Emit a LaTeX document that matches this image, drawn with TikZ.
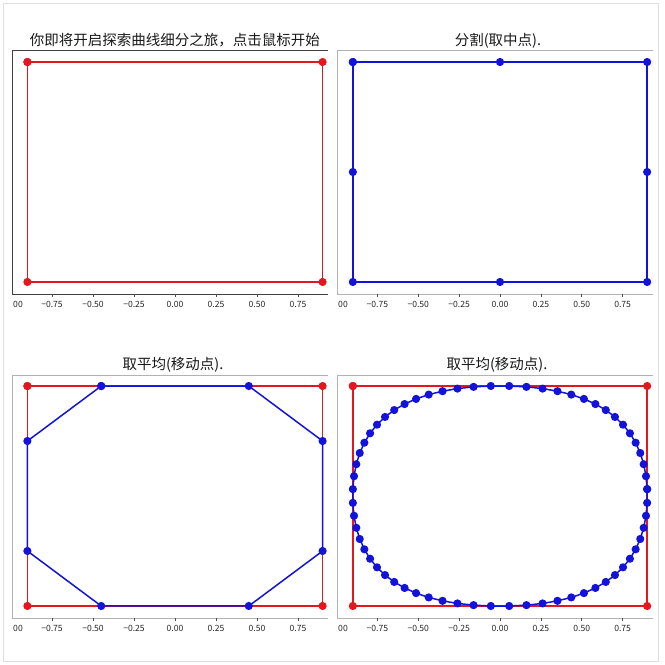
\documentclass[tikz,border=0pt]{standalone}
\usepackage{fontspec}
\newfontfamily\cjk{Noto Sans CJK SC}
\definecolor{pr}{RGB}{228,22,30}
\definecolor{pb}{RGB}{18,18,218}
\tikzset{
  redline/.style={draw=pr, line width=1.5pt, line join=round},
  blueline/.style={draw=pb, line width=1.5pt, line join=round},
  reddots/.style={mark=*, mark size=3.3pt, mark options={draw=pr, fill=pr, solid}},
  bluedots/.style={mark=*, mark size=3.3pt, mark options={draw=pb, fill=pb, solid}},
  spine/.style={line width=0.8pt},
  tickmark/.style={line width=0.7pt, draw=black!70},
  ticklab/.style={font=\cjk\fontsize{8.6}{10}\selectfont, anchor=base, inner sep=0pt, text=black!85},
  titlelab/.style={font=\cjk\fontsize{14.5}{16}\selectfont, anchor=base, inner sep=0pt, text=black!90},
  frame/.style={draw=gray!25, line width=0.8pt}
}
% #1 left, #2 right, #3 top, #4 bottom, #5 x of zero, #6 px per unit, #7 spine colour
\newcommand\myaxes[7]{%
  \draw[spine, draw=#7] (#2,#3) -- (#1,#3) -- (#1,#4) -- (#2,#4);
  \foreach \t/\lab [count=\i] in {-0.75/−0.75, -0.5/−0.50, -0.25/−0.25, 0/0.00, 0.25/0.25, 0.5/0.50, 0.75/0.75}{
    \draw[tickmark] ({#5+#6*\t},#4) -- ++(0,3);
    \node[ticklab] (tk#1x#4x\i) at ({#5+#6*\t},{#4+13}) {\lab};
  }
  \node[ticklab] (tk#1x#4x0) at ({#1+6},{#4+13}) {00};
}
\begin{document}
\begin{tikzpicture}[x=1pt, y=-1pt]
\useasboundingbox (0,0) rectangle (665,665);
\fill[white] (0,0) rectangle (665,665);
\draw[frame] (3,3) rectangle (658,661);

% ---------- axes ----------
\myaxes{12}{328}{50}{294}{175}{164}{black!75}
\myaxes{337}{653}{50}{294}{500}{163.5}{gray!60}
\myaxes{12}{328}{375}{618}{175}{164}{gray!60}
\myaxes{337}{653}{375}{618}{500}{163.5}{gray!60}

% ---------- titles ----------
\node[titlelab] (t1) at (175,45) {你即将开启探索曲线细分之旅，点击鼠标开始};
\node[titlelab] (t2) at (498,45) {分割(取中点).};
\node[titlelab] (t3) at (173,369.5) {取平均(移动点).};
\node[titlelab] (t4) at (497,369.5) {取平均(移动点).};

% ---------- panel 1 ----------
\begin{scope}[shift={(175,172)}, x=164pt, y=122.2pt]
  \draw[redline] plot[reddots] coordinates {(-0.9,0.9) (0.9,0.9) (0.9,-0.9) (-0.9,-0.9) (-0.9,0.9)};
\end{scope}

% ---------- panel 2 ----------
\begin{scope}[shift={(500,172)}, x=163.5pt, y=122.2pt]
  \draw[blueline] plot[bluedots] coordinates {(-0.9,0.9) (0,0.9) (0.9,0.9) (0.9,0) (0.9,-0.9) (0,-0.9) (-0.9,-0.9) (-0.9,0) (-0.9,0.9)};
\end{scope}

% ---------- panel 3 ----------
\begin{scope}[shift={(175,496)}, x=164pt, y=122.2pt]
  \draw[redline] plot[reddots] coordinates {(-0.9,0.9) (0.9,0.9) (0.9,-0.9) (-0.9,-0.9) (-0.9,0.9)};
  \draw[blueline] plot[bluedots] coordinates {(-0.45,0.9) (0.45,0.9) (0.9,0.45) (0.9,-0.45) (0.45,-0.9) (-0.45,-0.9) (-0.9,-0.45) (-0.9,0.45) (-0.45,0.9)};
\end{scope}

% ---------- panel 4 ----------
\begin{scope}[shift={(500,496)}, x=147.15pt, y=110pt]
  \draw[redline] plot[reddots] coordinates {(-1,1) (1,1) (1,-1) (-1,-1) (-1,1)};
  \draw[blueline] plot[bluedots] coordinates {
    (1,.0625) (.9922,.1797) (.9766,.2891) (.9531,.3906) (.9219,.4844) (.8828,.5703) (.8359,.6484) (.7813,.7188)
    (.7188,.7813) (.6484,.8359) (.5703,.8828) (.4844,.9219) (.3906,.9531) (.2891,.9766) (.1797,.9922) (.0625,1)
    (-.0625,1) (-.1797,.9922) (-.2891,.9766) (-.3906,.9531) (-.4844,.9219) (-.5703,.8828) (-.6484,.8359) (-.7188,.7813)
    (-.7813,.7188) (-.8359,.6484) (-.8828,.5703) (-.9219,.4844) (-.9531,.3906) (-.9766,.2891) (-.9922,.1797) (-1,.0625)
    (-1,-.0625) (-.9922,-.1797) (-.9766,-.2891) (-.9531,-.3906) (-.9219,-.4844) (-.8828,-.5703) (-.8359,-.6484) (-.7813,-.7188)
    (-.7188,-.7813) (-.6484,-.8359) (-.5703,-.8828) (-.4844,-.9219) (-.3906,-.9531) (-.2891,-.9766) (-.1797,-.9922) (-.0625,-1)
    (.0625,-1) (.1797,-.9922) (.2891,-.9766) (.3906,-.9531) (.4844,-.9219) (.5703,-.8828) (.6484,-.8359) (.7188,-.7813)
    (.7813,-.7188) (.8359,-.6484) (.8828,-.5703) (.9219,-.4844) (.9531,-.3906) (.9766,-.2891) (.9922,-.1797) (1,-.0625)
    (1,.0625)};
\end{scope}
\end{tikzpicture}
\end{document}
